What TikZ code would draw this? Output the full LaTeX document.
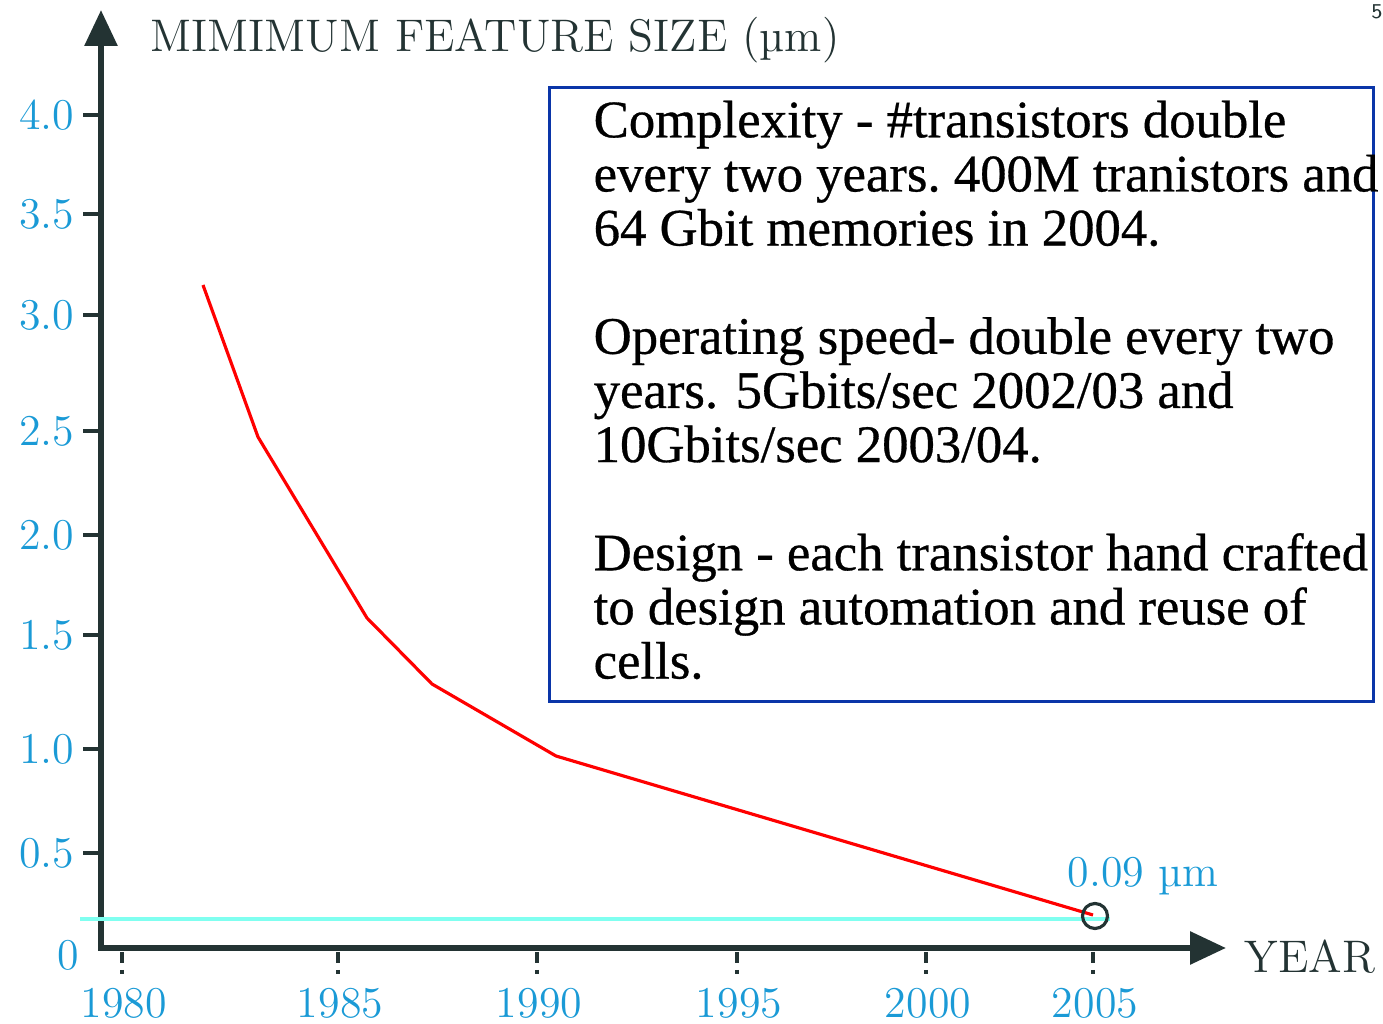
\documentclass[tikz,border=0pt]{standalone}
\usepackage{fontspec}
\usepackage{xcolor}
\usetikzlibrary{arrows.meta,positioning}
\newfontfamily\boxfont{Liberation Serif}[FakeBold=0.6]
\definecolor{axisgray}{HTML}{233333}
\definecolor{labelblue}{HTML}{1A9AD6}
\definecolor{boxblue}{HTML}{0A35A8}
\definecolor{levelcyan}{HTML}{80FFF0}

\begin{document}
\begin{tikzpicture}[x=0.1mm,y=-0.1mm,
    axisline/.style={draw=axisgray, line width=1.7pt, line join=miter,
                     {Triangle[length=3.6mm,width=3.2mm]}-{Triangle[length=3.6mm,width=3.2mm]}},
    ytickmark/.style={draw=axisgray, line width=1.1pt},
    xtickmark/.style={draw=axisgray, line width=1.1pt, dash pattern=on 1.1mm off 0.7mm on 0.4mm off 2mm},
    scalelabel/.style={text=labelblue, font=\fontsize{12.5}{14}\selectfont, inner sep=0pt},
    axistitle/.style={text=axisgray, font=\fontsize{13}{15}\selectfont, inner sep=0pt},
    sizecurve/.style={draw=red, line width=0.9pt, line join=round},
    infobox/.style={draw=boxblue, line width=0.9pt, minimum width=82.4mm, minimum height=61.4mm,
                    anchor=north west, inner sep=0pt}]
  \useasboundingbox (0,0) rectangle (1383,1024);

  % axes
  \coordinate (origin) at (101,948);
  \coordinate (ytop)   at (101,10);
  \coordinate (xend)   at (1226,948);
  \draw[axisline] (ytop) -- (origin) -- (xend);
  \node[axistitle, anchor=west] (ytitle) at (150,40) {MIMIMUM FEATURE SIZE (µm)};
  \node[axistitle, anchor=west] (xtitle) at (1244,957) {YEAR};

  % size scale
  \foreach \yy/\lab [count=\i] in {115/4.0, 214/3.5, 315/3.0, 431/2.5, 535/2.0, 635/1.5, 749/1.0, 853/0.5} {
    \draw[ytickmark] (83,\yy) -- (101,\yy);
    \node[scalelabel, anchor=east] (ylab\i) at (75,\yy) {\lab};
  }
  \node[scalelabel] (ylab0) at (68,955) {0};

  % years
  \foreach \xx/\lab [count=\i] in {122/1980, 338/1985, 537/1990, 737/1995, 926/2000, 1093/2005} {
    \draw[xtickmark] (\xx,952) -- (\xx,976);
    \node[scalelabel] (xlab\i) at (\xx+2,1003) {\lab};
  }

  % 0.09 level
  \coordinate (lvlstart) at (80,919);
  \coordinate (lvlend)   at (1110,919);
  \draw[levelcyan, line width=1.4pt] (lvlstart) -- (lvlend);

  % feature size curve
  \coordinate (p1) at (203,285);
  \coordinate (p2) at (258,437);
  \coordinate (p3) at (367,618);
  \coordinate (p4) at (432,684);
  \coordinate (p5) at (556,756);
  \coordinate (p6) at (1093,915);
  \draw[sizecurve] (p1) -- (p2) -- (p3) -- (p4) -- (p5) -- (p6);
  \node[circle, draw=axisgray, line width=0.9pt, minimum size=2.5mm, inner sep=0pt] (endmark) at (1095,916) {};
  \node[scalelabel] (endlab) at (1143,876) {0.09 µm};

  % trend box
  \node[infobox] (trends) at (548,86) {};
  \node[anchor=north west, inner sep=0pt, align=left,
        font=\boxfont\fontsize{15}{15.4}\selectfont] (trendtext) at (593,100)
       {Complexity - \#transistors double\\
        every two years.\ 400M tranistors and\\
        64 Gbit memories in 2004.\\[15.4pt]
        Operating speed- double every two\\
        years. 5Gbits/sec 2002/03 and\\
        10Gbits/sec 2003/04.\\[15.4pt]
        Design - each transistor hand crafted\\
        to design automation and reuse of\\
        cells.};

  % page number
  \node[text=axisgray, font=\sffamily\fontsize{6}{7}\selectfont, inner sep=0pt] (pagenum) at (1377,12) {5};
\end{tikzpicture}
\end{document}
